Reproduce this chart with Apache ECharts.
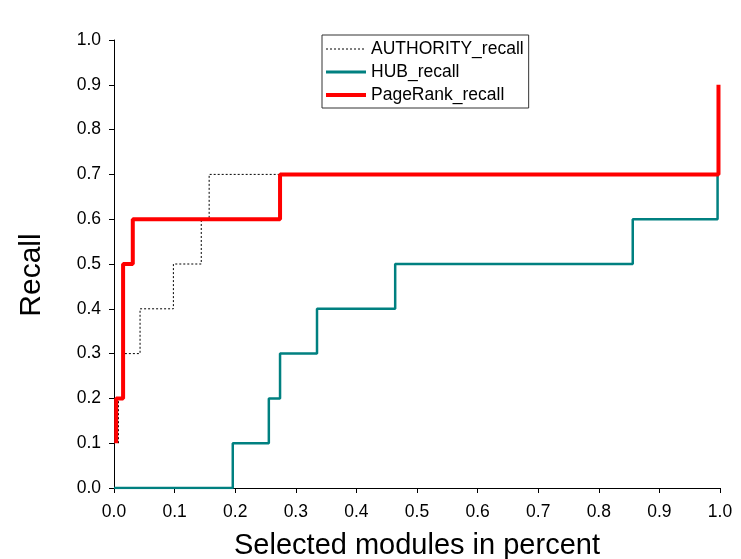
<!DOCTYPE html>
<html>
<head>
<meta charset="utf-8">
<script src="https://cdn.jsdelivr.net/npm/echarts@6/dist/echarts.min.js"></script>
<style>
  html, body { margin: 0; padding: 0; background: #fff; }
  #main { width: 741px; height: 559px; }
</style>
</head>
<body>
<div id="main"></div>
<script>
// step points [fraction of modules, recall]
var authorityPts = [[0.0074, 0.1], [0.0074, 0.2], [0.017, 0.3], [0.043, 0.4], [0.098, 0.5], [0.144, 0.6], [0.157, 0.7], [1.0, 0.7]];
var hubPts = [[0, 0], [0.196, 0.1], [0.2555, 0.2], [0.274, 0.3], [0.335, 0.4], [0.464, 0.5], [0.856, 0.6], [0.996, 0.7]];
var pagerankPts = [[0.0036, 0.1], [0.0036, 0.2], [0.015, 0.5], [0.031, 0.6], [0.274, 0.7], [0.9975, 0.9]];
var seriesNames = ['AUTHORITY_recall', 'HUB_recall', 'PageRank_recall'];
var lineWidths = [1, 3, 4];

var font = 'Liberation Sans, Arial, sans-serif';
var chart = echarts.init(document.getElementById('main'));

chart.setOption({
    animation: false,
    backgroundColor: '#fff',
    grid: { left: 114, right: 21, top: 40, bottom: 71, containLabel: false, outerBoundsMode: 'none' },
    legend: {
        orient: 'vertical',
        left: 322,
        top: 35,
        padding: [5, 5, 4, 2],
        itemWidth: 40,
        itemHeight: 14,
        itemGap: 5,
        borderColor: '#333',
        borderWidth: 1,
        borderRadius: 0,
        itemStyle: { opacity: 0 },
        textStyle: { fontFamily: font, fontSize: 17.5, color: '#000' },
        data: seriesNames.map(function (n, i) {
            return { name: n, lineStyle: { width: lineWidths[i] } };
        })
    },
    xAxis: {
        type: 'value',
        min: 0, max: 1, interval: 0.1,
        name: 'Selected modules in percent',
        nameLocation: 'middle',
        nameGap: 43,
        nameTextStyle: { fontFamily: font, fontSize: 29, color: '#000' },
        splitLine: { show: false },
        axisLine: { show: true, lineStyle: { color: '#000', width: 1 } },
        axisTick: { show: true, length: 5, lineStyle: { color: '#000' } },
        axisLabel: { fontFamily: font, fontSize: 17.5, color: '#000', margin: 15,
            formatter: function (v) { return v.toFixed(1); } }
    },
    yAxis: {
        type: 'value',
        min: 0, max: 1, interval: 0.1,
        name: 'Recall',
        nameLocation: 'middle',
        nameGap: 67,
        nameTextStyle: { fontFamily: font, fontSize: 30, color: '#000', padding: [0, 22, 0, 0] },
        splitLine: { show: false },
        axisLine: { show: true, lineStyle: { color: '#000', width: 1 } },
        axisTick: { show: true, length: 5, lineStyle: { color: '#000' } },
        axisLabel: { fontFamily: font, fontSize: 17.5, color: '#000', margin: 13,
            formatter: function (v) { return v.toFixed(1); } }
    },
    series: [
        {
            name: seriesNames[0], type: 'line', step: 'end', showSymbol: false, symbol: 'none',
            data: authorityPts,
            itemStyle: { color: '#000' },
            lineStyle: { color: '#000', width: lineWidths[0], type: [2, 2] }
        },
        {
            name: seriesNames[1], type: 'line', step: 'end', showSymbol: false, symbol: 'none',
            data: hubPts,
            itemStyle: { color: '#008080' },
            lineStyle: { color: '#008080', width: 2.5 }
        },
        {
            name: seriesNames[2], type: 'line', step: 'end', showSymbol: false, symbol: 'none',
            data: pagerankPts,
            itemStyle: { color: '#ff0000' },
            lineStyle: { color: '#ff0000', width: lineWidths[2] }
        }
    ]
});
</script>
</body>
</html>
